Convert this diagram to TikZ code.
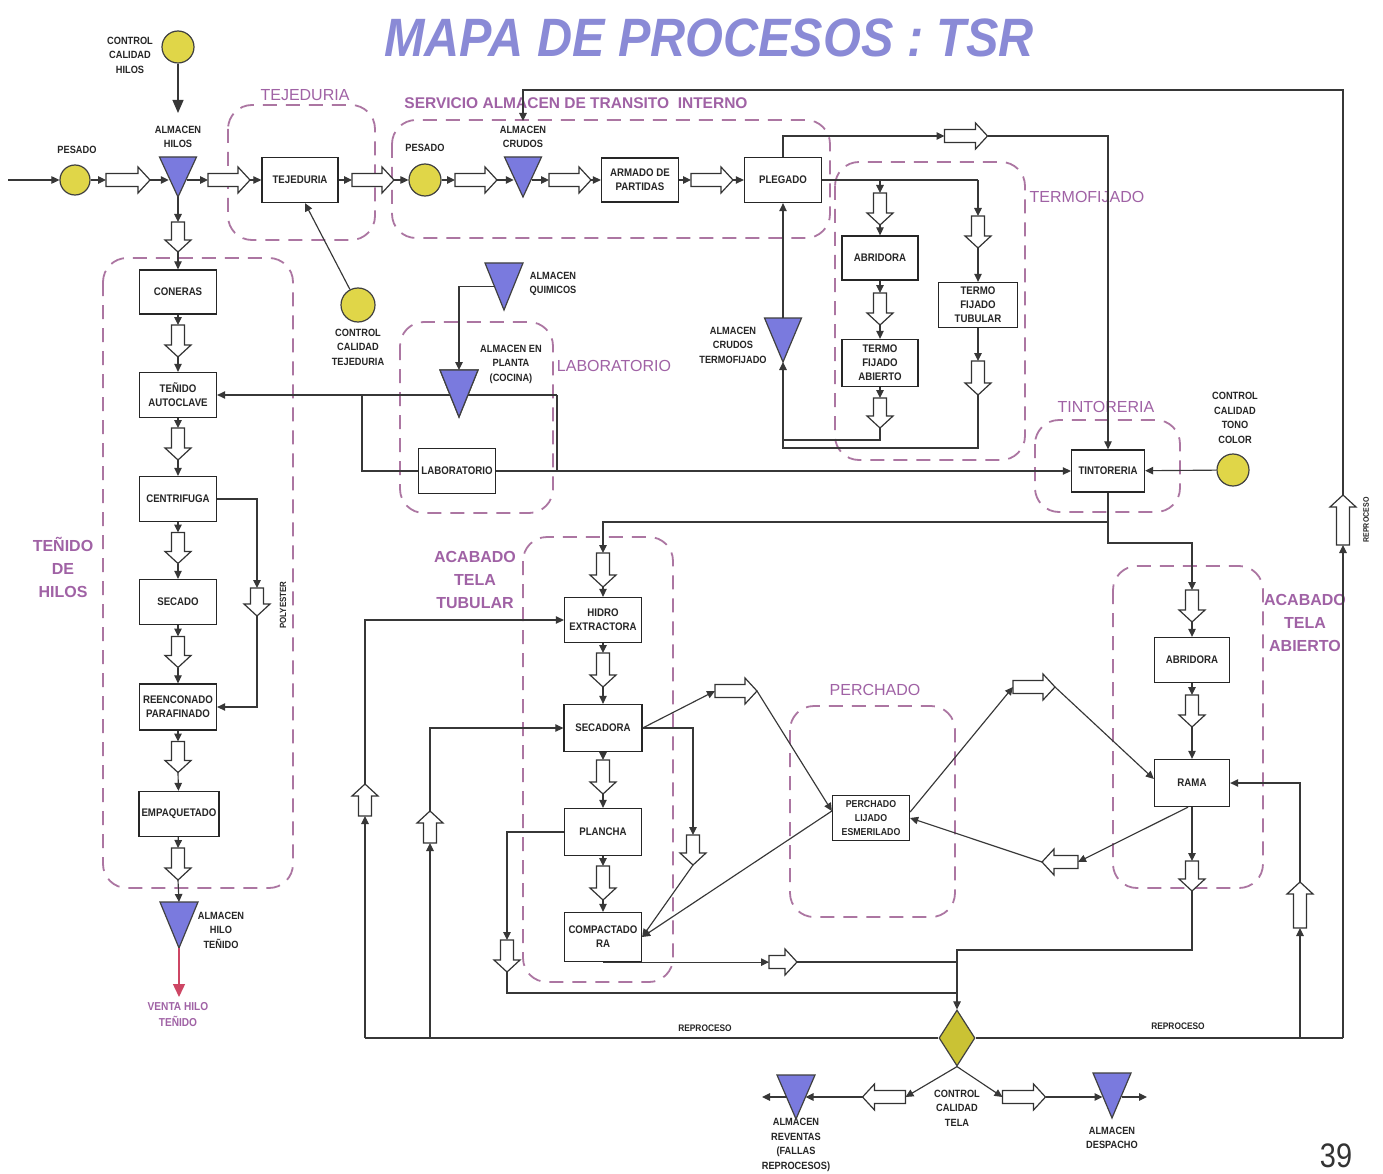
\documentclass[tikz,border=0pt]{standalone}
\usepackage{fontspec}
\setmainfont{Liberation Sans}
\newfontfamily\narrowf[FakeStretch=0.88]{Liberation Sans}
\newfontfamily\titlef[FakeStretch=0.9]{Liberation Sans}
\newfontfamily\numf[FakeStretch=0.85]{Liberation Sans}
\usetikzlibrary{arrows.meta,shapes.geometric}
\definecolor{yel}{RGB}{224,214,72}
\definecolor{diac}{RGB}{202,194,52}
\definecolor{tric}{RGB}{122,122,222}
\definecolor{regc}{RGB}{172,118,162}
\definecolor{labc}{RGB}{160,98,165}
\definecolor{titc}{RGB}{138,138,214}
\definecolor{linec}{RGB}{55,55,55}
\definecolor{redc}{RGB}{205,70,100}
\tikzset{
  ln/.style={draw=linec, line width=1.15pt},
  arr/.style={ln, -{Triangle[length=8pt,width=7.5pt]}},
  arrbig/.style={ln, -{Triangle[length=13pt,width=11pt]}},
  pbox/.style={draw=black!85, line width=1.3pt, fill=white, minimum width=77pt, minimum height=45pt, inner sep=1pt, align=center, font=\narrowf\bfseries\fontsize{11}{14}\selectfont, text=black!85},
  circ/.style={circle, draw=black!75, line width=1.2pt, fill=yel, minimum size=32pt, inner sep=0pt},
  lbl/.style={align=center, inner sep=0pt, font=\narrowf\bfseries\fontsize{10.5}{14.5}\selectfont, text=black!85},
  region/.style={draw=regc, line width=1.8pt, dash pattern=on 14pt off 9pt, rounded corners=24pt},
  rlab/.style={text=labc, inner sep=0pt, font=\fontsize{16}{19}\selectfont},
  rlabb/.style={text=labc, inner sep=0pt, align=center, font=\bfseries\fontsize{16}{23}\selectfont},
  barrstyle/.style={draw=black!80, line width=1.2pt, fill=white, line join=miter},
  tristyle/.style={draw=black!75, line width=1.2pt, fill=tric, line join=miter},
}
% block arrow: name, x, y (centre), angle, length
\newcommand\blockarr[5]{%
  \begin{scope}[shift={(#2,#3)},rotate=#4]
    \path[barrstyle] (-#5/2,-6.5) -- (#5/2-12,-6.5) -- (#5/2-12,-13) -- (#5/2,0) -- (#5/2-12,13) -- (#5/2-12,6.5) -- (-#5/2,6.5) -- cycle;
    \coordinate (#1-tail) at (-#5/2,0);
    \coordinate (#1-tip) at (#5/2,0);
  \end{scope}}
% inverted triangle: name, x centre, y top, width, height
\newcommand\invtri[5]{%
  \path[tristyle] (#2-#4/2,#3) -- (#2+#4/2,#3) -- (#2,#3+#5) -- cycle;
  \coordinate (#1-n) at (#2,#3);
  \coordinate (#1-s) at (#2,#3+#5);
  \coordinate (#1-w) at (#2-#4/4,#3+#5/2);
  \coordinate (#1-e) at (#2+#4/4,#3+#5/2);}
\begin{document}
\begin{tikzpicture}[x=1pt,y=-1pt]
\fill[white] (0,0) rectangle (1383,1174);
\useasboundingbox (0,0) rectangle (1383,1174);

% title
\node[font=\titlef\bfseries\itshape\fontsize{54}{60}\selectfont, text=titc] (title) at (709,38) {MAPA DE PROCESOS : TSR};

% regions
\draw[region] (228,105) rectangle (375,240);
\draw[region] (392,120) rectangle (830,238);
\draw[region] (835,162) rectangle (1025,460);
\draw[region] (400,322) rectangle (553,513);
\draw[region] (1035,420) rectangle (1180,512);
\draw[region] (103,258) rectangle (293,888);
\draw[region] (523,537) rectangle (673,982);
\draw[region] (790,706) rectangle (955,917);
\draw[region] (1113,566) rectangle (1263,888);

\node[rlab] (rtej) at (305,95) {TEJEDURIA};
\node[rlabb, font=\bfseries\fontsize{15.5}{19}\selectfont] (rserv) at (576,103) {SERVICIO ALMACEN DE TRANSITO \ INTERNO};
\node[rlab] (rterm) at (1087,197) {TERMOFIJADO};
\node[rlab] (rlabo) at (614,366) {LABORATORIO};
\node[rlab] (rtint) at (1106,407) {TINTORERIA};
\node[rlabb] (rteh) at (63,567) {TEÑIDO\\DE\\HILOS};
\node[rlabb] (rtub) at (475,580) {ACABADO\\TELA\\TUBULAR};
\node[rlab] (rper) at (875,690) {PERCHADO};
\node[rlabb] (rabi) at (1305,623) {ACABADO\\TELA\\ABIERTO};

% ---------- top row ----------
\node[circ] (ccH) at (178,47) {};
\node[lbl] (lccH) at (130,55) {CONTROL\\CALIDAD\\HILOS};
\coordinate (aHin) at (178,113);
\node[lbl] (laH) at (178,137) {ALMACEN\\HILOS};
\coordinate (in0) at (8,180);
\node[circ, minimum size=30pt] (pes1) at (75,180) {};
\node[lbl] (lpes1) at (77,150) {PESADO};
\node[pbox, minimum width=76pt] (tej) at (300,180) {TEJEDURIA};
\node[circ] (pes2) at (425,180) {};
\node[lbl] (lpes2) at (425,148) {PESADO};
\node[lbl] (laC) at (523,137) {ALMACEN\\CRUDOS};
\coordinate (aCin) at (523,121);
\node[pbox, minimum height=44pt] (arm) at (640,180) {ARMADO DE\\PARTIDAS};
\node[pbox] (pleg) at (783,180) {PLEGADO};

\invtri{aH}{178}{157}{37}{40}
\invtri{aC}{523}{157}{37}{40}
\blockarr{b1}{128}{180}{0}{44}
\blockarr{b2}{229}{180}{0}{42}
\blockarr{b3}{373}{180}{0}{42}
\blockarr{b4}{476}{180}{0}{42}
\blockarr{b5}{570}{180}{0}{42}
\blockarr{b6}{712}{180}{0}{42}
\blockarr{b7}{966}{136}{0}{43}

\draw[arrbig] (ccH) -- (aHin);
\draw[arr] (in0) -- (pes1);
\draw[arr] (pes1) -- (b1-tail);
\draw[arr] (b1-tip) -- (b1-tip -| aH-w);
\draw[arr] (aH-e |- b2-tail) -- (b2-tail);
\draw[arr] (b2-tip) -- (tej);
\draw[arr] (tej) -- (b3-tail);
\draw[arr] (b3-tip) -- (pes2);
\draw[arr] (pes2) -- (b4-tail);
\draw[arr] (b4-tip) -- (b4-tip -| aC-w);
\draw[arr] (aC-e |- b5-tail) -- (b5-tail);
\draw[arr] (b5-tip) -- (arm);
\draw[arr] (arm) -- (b6-tail);
\draw[arr] (b6-tip) -- (pleg);

% control calidad tejeduria
\node[circ, minimum size=34pt] (ccTj) at (358,305) {};
\node[lbl] (lccTj) at (358,347) {CONTROL\\CALIDAD\\TEJEDURIA};
\draw[arr] (ccTj) -- ([xshift=5pt]tej.south);

% ---------- termofijado ----------
\node[pbox, minimum width=76pt, minimum height=44pt] (abr1) at (880,258) {ABRIDORA};
\node[pbox, minimum width=79pt] (tft) at (978,305) {TERMO\\FIJADO\\TUBULAR};
\node[pbox, minimum width=76pt, minimum height=47pt] (tfa) at (880,363) {TERMO\\FIJADO\\ABIERTO};
\node[lbl] (laCT) at (733,345) {ALMACEN\\CRUDOS\\TERMOFIJADO};
\invtri{aCT}{783}{318}{37}{44}
\coordinate (sp1) at (880,180);
\coordinate (sp2) at (978,180);
\coordinate (j0) at (783,440);
\coordinate (j1) at (783,448);
\blockarr{b8}{880}{209}{-90}{32}
\blockarr{b9}{978}{232}{-90}{32}
\blockarr{b10}{880}{309}{-90}{32}
\blockarr{b11}{880}{413}{-90}{30}
\blockarr{b12}{978}{378}{-90}{34}
\draw[ln] (pleg.east) -- (sp2);
\draw[arr] (sp1) -- (b8-tail);
\draw[arr] (b8-tip) -- (abr1);
\draw[arr] (sp2) -- (b9-tail);
\draw[arr] (b9-tip) -- (tft);
\draw[arr] (abr1) -- (b10-tail);
\draw[arr] (b10-tip) -- (tfa);
\draw[arr] (tfa) -- (b11-tail);
\draw[arr] (tft) -- (b12-tail);
\draw[ln] (b11-tip) |- (j0);
\draw[arr] (b12-tip) |- (j1) -- (aCT-s);
\draw[arr] (aCT-n) -- (pleg.south);

% ---------- tintoreria ----------
\node[pbox, minimum width=73pt, minimum height=42pt] (tint) at (1108,471) {TINTORERIA};
\node[circ] (ccT) at (1233,470) {};
\node[lbl] (lccT) at (1235,418) {CONTROL\\CALIDAD\\TONO\\COLOR};
\draw[arr] (ccT) -- (tint);
\draw[arr] (pleg.north) |- (b7-tail);
\draw[arr] (b7-tip) -| (tint.north);

% ---------- left column ----------
\node[pbox, minimum height=44pt] (con) at (178,292) {CONERAS};
\node[pbox] (ten) at (178,395) {TEÑIDO\\AUTOCLAVE};
\node[pbox] (cen) at (178,499) {CENTRIFUGA};
\node[pbox] (sec) at (178,602) {SECADO};
\node[pbox, minimum height=46pt] (ree) at (178,707) {REENCONADO\\PARAFINADO};
\node[pbox, minimum width=80pt] (emp) at (179,814) {EMPAQUETADO};
\node[lbl] (laHT) at (221,930) {ALMACEN\\HILO\\TEÑIDO};
\coordinate (venta) at (179,997);
\node[lbl, text=labc, font=\narrowf\bfseries\fontsize{11.5}{16}\selectfont] (lventa) at (178,1015) {VENTA HILO\\TEÑIDO};
\node[lbl, rotate=90, font=\narrowf\bfseries\fontsize{9}{11}\selectfont] (lpoly) at (283,605) {POLYESTER};
\blockarr{b13}{178}{237}{-90}{30}
\blockarr{b14}{178}{341}{-90}{32}
\blockarr{b15}{178}{444}{-90}{32}
\blockarr{b16}{178}{548}{-90}{31}
\blockarr{b17}{178}{652}{-90}{31}
\blockarr{b18}{178}{757}{-90}{31}
\blockarr{b19}{178}{864}{-90}{32}
\blockarr{b20}{257}{602}{-90}{28}
\invtri{aHT}{179}{902}{38}{46}
\draw[arr] (aH-s) -- (b13-tail);
\draw[arr] (b13-tip) -- (con);
\draw[arr] (con) -- (b14-tail);
\draw[arr] (b14-tip) -- (ten);
\draw[arr] (ten) -- (b15-tail);
\draw[arr] (b15-tip) -- (cen);
\draw[arr] (cen) -- (b16-tail);
\draw[arr] (b16-tip) -- (sec);
\draw[arr] (sec) -- (b17-tail);
\draw[arr] (b17-tip) -- (ree);
\draw[arr] (ree) -- (b18-tail);
\draw[arr] (b18-tip) -- (emp);
\draw[arr] (emp) -- (b19-tail);
\draw[arr] (b19-tip) -- (aHT-n);
\draw[ln, draw=redc, line width=1.4pt, -{Triangle[length=13pt,width=12pt]}] (aHT-s) -- (venta);
\draw[arr] (cen) -| (b20-tail);
\draw[arr] (b20-tip) |- (ree);

% ---------- laboratorio ----------
\node[lbl] (laQ) at (553,284) {ALMACEN\\QUIMICOS};
\node[lbl] (laP) at (511,364) {ALMACEN EN\\PLANTA\\(COCINA)};
\node[pbox] (lab) at (457,471) {LABORATORIO};
\invtri{aQ}{504}{263}{38}{47}
\invtri{aP}{459}{370}{38}{47}
\coordinate (l1) at (557,395);
\coordinate (l2) at (557,471);
\coordinate (l3) at (362,395);
\draw[arr] (aQ-w) -| (aP-n);
\draw[arr] (l1) -- (ten);
\draw[ln] (l1) -- (l2);
\draw[ln] (l3) |- (lab);
\draw[arr] (lab) -- (tint);
\invtri{aP}{459}{370}{38}{47}

% ---------- acabado tela tubular ----------
\node[pbox] (hid) at (603,620) {HIDRO\\EXTRACTORA};
\node[pbox, minimum width=78pt, minimum height=47pt] (secd) at (603,728) {SECADORA};
\node[pbox, minimum height=47pt] (pla) at (603,832) {PLANCHA};
\node[pbox, minimum height=49pt] (com) at (603,937) {COMPACTADO\\RA};
\coordinate (t1) at (1108,522);
\coordinate (t2) at (1108,543);
\blockarr{b23}{603}{570}{-90}{34}
\blockarr{b25}{603}{670}{-90}{34}
\blockarr{b26}{603}{777}{-90}{34}
\blockarr{b27}{603}{883}{-90}{34}
\draw[arr] (tint) -- (t1) -| (b23-tail);
\draw[arr] (b23-tip) -- (hid);
\draw[arr] (hid) -- (b25-tail);
\draw[arr] (b25-tip) -- (secd);
\draw[arr] (secd) -- (b26-tail);
\draw[arr] (b26-tip) -- (pla);
\draw[arr] (pla) -- (b27-tail);
\draw[arr] (b27-tip) -- (com);

% ---------- perchado / acabado abierto ----------
\node[pbox, minimum height=45pt, font=\narrowf\bfseries\fontsize{10}{14}\selectfont] (per) at (871,818) {PERCHADO\\LIJADO\\ESMERILADO};
\node[pbox, minimum width=75pt, minimum height=45pt] (abr2) at (1192,660) {ABRIDORA};
\node[pbox, minimum width=75pt, minimum height=47pt] (rama) at (1192,783) {RAMA};
\blockarr{b24}{1192}{606}{-90}{32}
\blockarr{b39}{1192}{711}{-90}{32}
\blockarr{b32}{1192}{876}{-90}{30}
\blockarr{b35}{693}{850}{-90}{30}
\blockarr{b36}{736}{691}{0}{42}
\blockarr{b37}{1034}{687}{0}{42}
\blockarr{b38}{1060}{862}{180}{36}
\draw[arr] (t1) -- (t2) -| (b24-tail);
\draw[arr] (b24-tip) -- (abr2);
\draw[arr] (abr2) -- (b39-tail);
\draw[arr] (b39-tip) -- (rama);
\draw[arr] (secd) -| (b35-tail);
\draw[arr] (b35-tip) -- (com.east);
\draw[arr] (secd.east) -- (b36-tail);
\draw[arr] (b36-tip) -- ([yshift=7pt]per.west);
\draw[arr] ([yshift=7pt]per.west) -- (com.east);
\draw[arr] ([yshift=6pt]per.east) -- (b37-tail);
\draw[arr] (b37-tip) -- ([yshift=4pt]rama.west);
\draw[arr] ([xshift=-4pt]rama.south) -- (b38-tail);
\draw[arr] (b38-tip) -- (per.east);
\draw[arr] (rama) -- (b32-tail);

% ---------- control calidad tela ----------
\node[diamond, draw=black!75, line width=1.2pt, fill=diac, minimum width=36pt, minimum height=56pt, inner sep=0pt] (diam) at (957,1038) {};
\coordinate (d0) at (957,950);
\coordinate (d1) at (957,962);
\coordinate (d2) at (957,993);
\coordinate (r1) at (365,1038);
\coordinate (r2) at (430,1038);
\coordinate (r3) at (1343,1038);
\coordinate (r4) at (1300,1038);
\coordinate (r5) at (1343,90);
\blockarr{b30}{507}{956}{-90}{32}
\blockarr{b31}{783}{962}{0}{28}
\blockarr{b28}{365}{800}{90}{32}
\blockarr{b29}{430}{827}{90}{32}
\blockarr{b21}{1343}{520}{90}{50}
\blockarr{b22}{1300}{905}{90}{46}
\draw[arr] (b32-tip) |- (d0) -- (diam);
\draw[arr] (com.south) -- (com.south -| b31-tail);
\draw[ln] (b31-tip) -- (d1);
\draw[arr] (pla) -| (b30-tail);
\draw[ln] (b30-tip) |- (d2);
\draw[ln] (diam) -- (r1);
\draw[arr] (r1) -- (b28-tail);
\draw[arr] (b28-tip) |- (hid);
\draw[arr] (r2) -- (b29-tail);
\draw[arr] (b29-tip) |- (secd);
\draw[ln] (diam) -- (r3);
\draw[arr] (r3) -- (b21-tail);
\draw[arr] (b21-tip) -- (r5) -| (aCin);
\draw[arr] (r4) -- (b22-tail);
\draw[arr] (b22-tip) |- (rama);
\node[lbl, font=\narrowf\bfseries\fontsize{9.5}{11}\selectfont] (lrep1) at (705,1028) {REPROCESO};
\node[lbl, font=\narrowf\bfseries\fontsize{9.5}{11}\selectfont] (lrep2) at (1178,1026) {REPROCESO};
\node[lbl, rotate=90, font=\narrowf\bfseries\fontsize{8}{10}\selectfont] (lrep3) at (1366,520) {REPROCESO};

% bottom
\node[lbl] (lcct) at (957,1108) {CONTROL\\CALIDAD\\TELA};
\node[lbl] (laR) at (796,1145) {ALMACEN\\REVENTAS\\(FALLAS\\REPROCESOS)};
\node[lbl] (laD) at (1112,1138) {ALMACEN\\DESPACHO};
\coordinate (rvout) at (762,1097);
\coordinate (dsout) at (1147,1097);
\invtri{aR}{796}{1075}{38}{44}
\invtri{aD}{1112}{1073}{38}{45}
\blockarr{b33}{884}{1097}{180}{43}
\blockarr{b34}{1024}{1097}{0}{43}
\draw[arr] (diam.south) -- (b33-tail);
\draw[arr] (b33-tip) -- (b33-tip -| aR-e);
\draw[arr] (aR-w |- rvout) -- (rvout);
\draw[arr] (diam.south) -- (b34-tail);
\draw[arr] (b34-tip) -- (b34-tip -| aD-w);
\draw[arr] (aD-e |- dsout) -- (dsout);

\node[font=\numf\fontsize{34}{36}\selectfont, text=black!80] (pnum) at (1336,1156) {39};
\end{tikzpicture}
\end{document}
